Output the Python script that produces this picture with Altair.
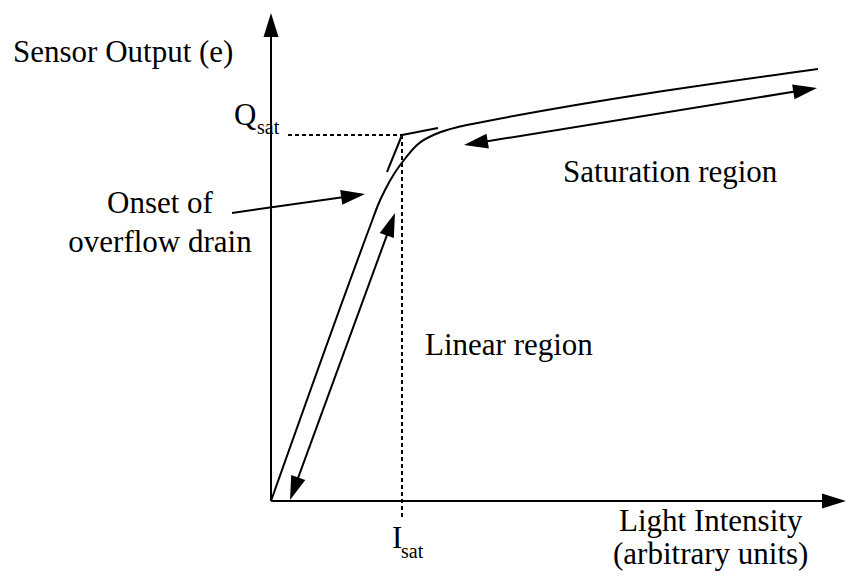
import math
import altair as alt
import pandas as pd

# ---------------- data (arbitrary units, origin = corner of the axes) ----------------
# Sensor response curve: linear rise, soft knee, slow saturation slope
curve_x = [0, 101, 107, 114, 123, 133, 146, 166, 189, 209, 547]
curve_y = [0, 280, 296, 311, 327, 341, 356, 367.5, 374.5, 378.5, 432]

# Saturation point (I_sat, Q_sat)
i_sat = 131
q_sat = 366

# Extrapolated (ideal) lines meeting at the saturation point
tangent_lin_x = [116, 131]
tangent_lin_y = [329, 366]
tangent_sat_x = [131, 167]
tangent_sat_y = [366, 373]

# Dashed guide extents
q_dash_start = 17
i_dash_end = -17

# Arrows: tail, tip, double-headed?
arrow_name = ["y axis", "x axis", "linear", "saturation", "onset"]
arrow_tail_x = [0, 0, 19, 193, -39]
arrow_tail_y = [0, 0, 1, 356, 288]
arrow_tip_x = [0, 575, 124, 546, 94]
arrow_tip_y = [488, 0, 288, 413, 307]
arrow_double = [False, False, True, True, False]

# Labels
lab_left_text = ["Sensor Output (e)", "Q", "sat", "Saturation region", "Linear region",
                 "I", "sat", "Light Intensity", "(arbitrary units)"]
lab_left_x = [-258, -37, -14, 292, 154, 121, 130, 348, 342]
lab_left_y = [439, 376, 367, 319, 146, -47, -57, -30, -63]
lab_left_size = [31, 31, 20, 31, 31, 31, 20, 31, 31]

lab_center_text = ["Onset of", "overflow drain"]
lab_center_x = [-111, -111]
lab_center_y = [288, 249]
lab_center_size = [31, 31]

# ---------------- build tables ----------------
X_DOMAIN = [-263, 575]
Y_DOMAIN = [-70, 493]
W, H = 838, 563
FONT = "Liberation Serif"

curve_df = pd.DataFrame({"x": curve_x, "y": curve_y, "o": range(len(curve_x))})


def trim(a, b, d):
    """move point b back toward a by d units"""
    L = math.hypot(b[0] - a[0], b[1] - a[1])
    return (b[0] - (b[0] - a[0]) * d / L, b[1] - (b[1] - a[1]) * d / L)


def head_angle(tail, tip):
    return math.degrees(math.atan2(tip[0] - tail[0], tip[1] - tail[1])) % 360


seg_rows = []
head_rows = []
sid = 0
for name, tx, ty, px, py, dbl in zip(arrow_name, arrow_tail_x, arrow_tail_y,
                                     arrow_tip_x, arrow_tip_y, arrow_double):
    tail, tip = (tx, ty), (px, py)
    end = trim(tail, tip, 10)
    start = trim(tip, tail, 10) if dbl else tail
    seg_rows += [{"seg": sid, "o": 0, "x": start[0], "y": start[1]},
                 {"seg": sid, "o": 1, "x": end[0], "y": end[1]}]
    sid += 1
    head_rows.append({"x": tip[0], "y": tip[1], "ang": head_angle(tail, tip)})
    if dbl:
        head_rows.append({"x": tail[0], "y": tail[1], "ang": head_angle(tip, tail)})

for xs, ys in [(tangent_lin_x, tangent_lin_y), (tangent_sat_x, tangent_sat_y)]:
    for k, (xx, yy) in enumerate(zip(xs, ys)):
        seg_rows.append({"seg": sid, "o": k, "x": xx, "y": yy})
    sid += 1

seg_df = pd.DataFrame(seg_rows)
head_df = pd.DataFrame(head_rows)

dash_df = pd.DataFrame([
    {"seg": 0, "o": 0, "x": q_dash_start, "y": q_sat},
    {"seg": 0, "o": 1, "x": i_sat, "y": q_sat},
    {"seg": 1, "o": 0, "x": i_sat, "y": q_sat},
    {"seg": 1, "o": 1, "x": i_sat, "y": i_dash_end},
])

left_df = pd.DataFrame({"x": lab_left_x, "y": lab_left_y, "t": lab_left_text, "s": lab_left_size})
center_df = pd.DataFrame({"x": lab_center_x, "y": lab_center_y, "t": lab_center_text, "s": lab_center_size})

xs = alt.Scale(domain=X_DOMAIN, nice=False, zero=False)
ys = alt.Scale(domain=Y_DOMAIN, nice=False, zero=False)
X = alt.X("x:Q", scale=xs, axis=None)
Y = alt.Y("y:Q", scale=ys, axis=None)

curve = alt.Chart(curve_df).mark_line(
    interpolate="monotone", color="black", strokeWidth=2
).encode(x=X, y=Y, order="o:Q")

segs = alt.Chart(seg_df).mark_line(color="black", strokeWidth=2).encode(
    x=X, y=Y, detail="seg:N", order="o:Q")

dashes = alt.Chart(dash_df).mark_line(
    color="black", strokeWidth=2, strokeDash=[4, 3]
).encode(x=X, y=Y, detail="seg:N", order="o:Q")

heads = alt.Chart(head_df).mark_point(
    shape="M0,0L0.625,2L-0.625,2Z", filled=True, size=576,
    color="black", opacity=1, strokeWidth=0
).encode(x=X, y=Y, angle=alt.Angle("ang:Q", scale=None))

txt_left = alt.Chart(left_df).mark_text(
    align="left", baseline="alphabetic", font=FONT, color="black"
).encode(x=X, y=Y, text="t:N", size=alt.Size("s:Q", scale=None))

txt_center = alt.Chart(center_df).mark_text(
    align="center", baseline="alphabetic", font=FONT, color="black"
).encode(x=X, y=Y, text="t:N", size=alt.Size("s:Q", scale=None))

chart = alt.layer(dashes, curve, segs, heads, txt_left, txt_center).properties(
    width=W, height=H, padding=0, autosize="none"
).configure_view(stroke=None)

chart.save("out.html", embed_options={"renderer": "svg", "actions": False})
